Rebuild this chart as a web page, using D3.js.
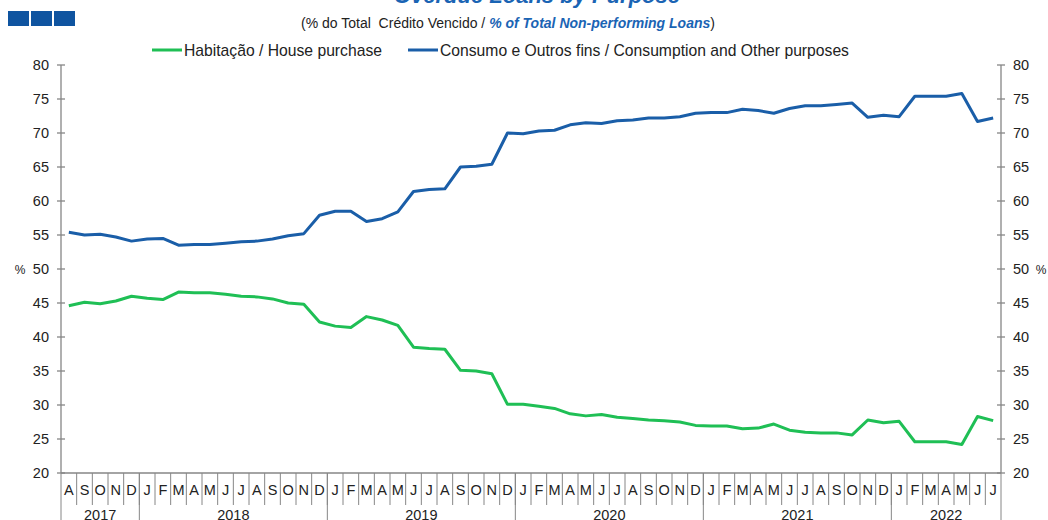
<!DOCTYPE html>
<html>
<head>
<meta charset="utf-8">
<script src="https://cdn.jsdelivr.net/npm/d3@7"></script>
<style>
	body { margin: 0; background: #fff; }
	svg { font-family: "Liberation Sans", Arial, sans-serif; }
</style>
</head>
<body>
<svg width="1048" height="520"></svg>
<script>
// months Aug 2017 .. Jul 2022
const monthLetters = ["A","S","O","N","D",
	"J","F","M","A","M","J","J","A","S","O","N","D",
	"J","F","M","A","M","J","J","A","S","O","N","D",
	"J","F","M","A","M","J","J","A","S","O","N","D",
	"J","F","M","A","M","J","J","A","S","O","N","D",
	"J","F","M","A","M","J","J"];
const years = [
	{ label: "2017", start: 0, count: 5 },
	{ label: "2018", start: 5, count: 12 },
	{ label: "2019", start: 17, count: 12 },
	{ label: "2020", start: 29, count: 12 },
	{ label: "2021", start: 41, count: 12 },
	{ label: "2022", start: 53, count: 7 }
];
const consumo = [55.4, 55.0, 55.1, 54.7, 54.1,
	54.4, 54.5, 53.5, 53.6, 53.6, 53.8, 54.0, 54.1, 54.4, 54.9, 55.2, 57.9,
	58.5, 58.5, 57.0, 57.4, 58.4, 61.4, 61.7, 61.8, 65.0, 65.1, 65.4, 70.0,
	69.9, 70.3, 70.4, 71.2, 71.5, 71.4, 71.8, 71.9, 72.2, 72.2, 72.4, 72.9,
	73.0, 73.0, 73.5, 73.3, 72.9, 73.6, 74.0, 74.0, 74.2, 74.4, 72.3, 72.6,
	72.4, 75.4, 75.4, 75.4, 75.8, 71.7, 72.2];
const habitacao = [44.6, 45.1, 44.9, 45.3, 46.0,
	45.7, 45.5, 46.6, 46.5, 46.5, 46.3, 46.0, 45.9, 45.6, 45.0, 44.8, 42.2,
	41.6, 41.4, 43.0, 42.5, 41.7, 38.5, 38.3, 38.2, 35.1, 35.0, 34.6, 30.1,
	30.1, 29.8, 29.5, 28.7, 28.4, 28.6, 28.2, 28.0, 27.8, 27.7, 27.5, 27.0,
	26.9, 26.9, 26.5, 26.6, 27.2, 26.3, 26.0, 25.9, 25.9, 25.6, 27.8, 27.4,
	27.6, 24.6, 24.6, 24.6, 24.2, 28.3, 27.7];
const yTicks = [20, 25, 30, 35, 40, 45, 50, 55, 60, 65, 70, 75, 80];

const BLUE = "#1a5ea8";
const GREEN = "#1fbf55";
const AXIS = "#868686";
const TEXT = "#222";

var svg = d3.select("svg");
var plotLeft = 61, plotRight = 1001, plotTop = 65, plotBottom = 473;

var x = d3.scaleBand().domain(d3.range(monthLetters.length)).range([plotLeft, plotRight]).padding(0);
var y = d3.scaleLinear().domain([20, 80]).range([plotBottom, plotTop]);

// header
var sq = svg.append("g");
[0, 1, 2].forEach(function(i) {
	sq.append("rect").attr("x", 8 + i * 23).attr("y", 11).attr("width", 21).attr("height", 15).attr("fill", "#0f54a0");
});
svg.append("text").attr("x", 537).attr("y", 3).attr("text-anchor", "middle")
	.attr("font-size", 22).attr("font-weight", "bold").attr("font-style", "italic").attr("fill", "#1a64b4")
	.text("Overdue Loans by Purpose");
var sub = svg.append("text").attr("x", 508).attr("y", 28).attr("text-anchor", "middle").attr("font-size", 14)
	.attr("fill", TEXT).style("white-space", "pre");
sub.append("tspan").text("(% do Total  Crédito Vencido / ");
sub.append("tspan").attr("font-weight", "bold").attr("font-style", "italic").attr("fill", "#1a64b4").text("% of Total Non-performing Loans");
sub.append("tspan").text(")");

// legend
var legend = [
	{ name: "Habitação / House purchase", color: GREEN, x: 152 },
	{ name: "Consumo e Outros fins / Consumption and Other purposes", color: BLUE, x: 408 }
];
legend.forEach(function(d) {
	svg.append("line").attr("x1", d.x).attr("x2", d.x + 30).attr("y1", 50).attr("y2", 50)
		.attr("stroke", d.color).attr("stroke-width", 3);
	svg.append("text").attr("x", d.x + 32).attr("y", 55.5).attr("font-size", 15.7).attr("fill", TEXT).text(d.name);
});

// y axes
function yAxis(xpos, side) {
	var g = svg.append("g");
	g.append("line").attr("x1", xpos).attr("x2", xpos).attr("y1", plotTop).attr("y2", plotBottom).attr("stroke", AXIS).attr("stroke-width", 1.3);
	yTicks.forEach(function(t) {
		g.append("line").attr("x1", xpos - 4).attr("x2", xpos + 4).attr("y1", y(t)).attr("y2", y(t)).attr("stroke", AXIS).attr("stroke-width", 1.3);
		g.append("text").attr("x", side < 0 ? xpos - 12 : xpos + 12).attr("y", y(t) + 5)
			.attr("text-anchor", side < 0 ? "end" : "start").attr("font-size", 14.5).attr("fill", TEXT).text(t);
	});
}
yAxis(plotLeft, -1);
yAxis(plotRight, 1);
svg.append("text").attr("x", 20).attr("y", y(50) + 5).attr("text-anchor", "middle").attr("font-size", 12).attr("fill", TEXT).text("%");
svg.append("text").attr("x", 1041).attr("y", y(50) + 5).attr("text-anchor", "middle").attr("font-size", 12).attr("fill", TEXT).text("%");

// x axis
var xa = svg.append("g");
xa.append("line").attr("x1", plotLeft).attr("x2", plotRight).attr("y1", plotBottom).attr("y2", plotBottom).attr("stroke", AXIS).attr("stroke-width", 1.3);
monthLetters.forEach(function(m, i) {
	if (i > 0) {
		xa.append("line").attr("x1", x(i)).attr("x2", x(i)).attr("y1", plotBottom).attr("y2", plotBottom + 32).attr("stroke", AXIS);
	}
	xa.append("text").attr("x", x(i) + x.bandwidth() / 2).attr("y", plotBottom + 22).attr("text-anchor", "middle")
		.attr("font-size", 14.5).attr("fill", TEXT).text(m);
});
years.forEach(function(yr) {
	var x0 = x(yr.start), x1 = yr.start + yr.count < monthLetters.length ? x(yr.start + yr.count) : plotRight;
	xa.append("line").attr("x1", x0).attr("x2", x0).attr("y1", plotBottom).attr("y2", 520).attr("stroke", AXIS);
	xa.append("text").attr("x", (x0 + x1) / 2).attr("y", plotBottom + 47).attr("text-anchor", "middle")
		.attr("font-size", 14.5).attr("fill", TEXT).text(yr.label);
});
xa.append("line").attr("x1", plotRight).attr("x2", plotRight).attr("y1", plotBottom).attr("y2", 520).attr("stroke", AXIS);

// lines
var line = d3.line().x(function(d, i) { return x(i) + x.bandwidth() / 2; }).y(function(d) { return y(d); });
svg.append("path").datum(habitacao).attr("d", line).attr("fill", "none").attr("stroke", GREEN).attr("stroke-width", 3).attr("stroke-linejoin", "round");
svg.append("path").datum(consumo).attr("d", line).attr("fill", "none").attr("stroke", BLUE).attr("stroke-width", 3).attr("stroke-linejoin", "round");
</script>
</body>
</html>
